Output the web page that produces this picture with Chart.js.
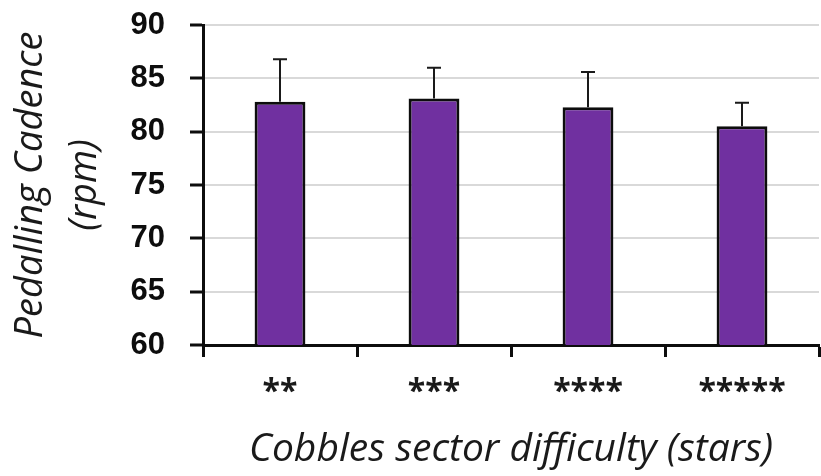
<!DOCTYPE html>
<html>
<head>
<meta charset="utf-8">
<script src="https://cdn.jsdelivr.net/npm/chart.js@4.4.1/dist/chart.umd.min.js"></script>
<style>
  html, body { margin: 0; padding: 0; background: #ffffff; }
  #wrap { width: 821px; height: 476px; }
</style>
</head>
<body>
<div id="wrap"><canvas id="chart" width="821" height="476"></canvas></div>
<script>
// Sector difficulty categories (stars) and mean pedalling cadence with SD
const categories = ['**', '***', '****', '*****'];
const cadenceMean = [82.8, 83.1, 82.3, 80.5];
const cadenceSD = [4.0, 2.9, 3.3, 2.2];
const yMin = 60;
const yMax = 90;
const yStep = 5;

// Upward-only error bars with a small cap, drawn from the bar top
const errorBars = {
  id: 'errorBars',
  afterDatasetsDraw(chart) {
    const meta = chart.getDatasetMeta(0);
    const yScale = chart.scales.y;
    const ctx = chart.ctx;
    ctx.save();
    ctx.strokeStyle = '#1a1a1a';
    ctx.lineWidth = 2;
    meta.data.forEach((bar, i) => {
      const top = yScale.getPixelForValue(cadenceMean[i] + cadenceSD[i]);
      const x = Math.round(bar.x);
      ctx.beginPath();
      ctx.moveTo(x, bar.y);
      ctx.lineTo(x, top);
      ctx.moveTo(x - 7, top);
      ctx.lineTo(x + 7, top);
      ctx.stroke();
    });
    ctx.restore();
  }
};

new Chart(document.getElementById('chart'), {
  type: 'bar',
  data: {
    labels: categories,
    datasets: [{
      data: cadenceMean,
      backgroundColor: '#7030a0',
      borderColor: '#0d0d0d',
      borderWidth: 3,
      borderSkipped: 'start',
      barPercentage: 0.33,
      categoryPercentage: 1.0
    }]
  },
  options: {
    responsive: false,
    animation: false,
    layout: { padding: { top: 25, right: 2, left: 0, bottom: 0 } },
    plugins: {
      legend: { display: false },
      tooltip: { enabled: false }
    },
    scales: {
      x: {
        offset: true,
        afterFit(scale) { scale.height = 131; },
        grid: {
          offset: true,
          drawOnChartArea: false,
          drawTicks: true,
          tickLength: 12,
          tickColor: '#0d0d0d',
          tickWidth: 3
        },
        border: { color: '#0d0d0d', width: 3 },
        ticks: {
          color: '#1a1a1a',
          padding: 17,
          font: { family: 'Open Sans', weight: 'bold', size: 32 }
        },
        title: {
          display: true,
          text: 'Cobbles sector difficulty (stars)',
          color: '#1a1a1a',
          padding: { top: 0, bottom: 3 },
          font: { family: 'Open Sans', style: 'italic', size: 39 }
        }
      },
      y: {
        min: yMin,
        max: yMax,
        afterFit(scale) {
          scale.width = 203;
          scale.paddingTop = 0;
          scale.paddingBottom = 0;
        },
        ticks: {
          stepSize: yStep,
          color: '#0d0d0d',
          padding: 25,
          font: { family: 'Liberation Sans', weight: 'bold', size: 31 }
        },
        grid: {
          color: '#d9d9d9',
          lineWidth: 2,
          tickLength: 13,
          tickColor: '#0d0d0d',
          tickWidth: 3
        },
        border: { color: '#0d0d0d', width: 3 },
        title: {
          display: true,
          text: ['Pedalling Cadence', '(rpm)'],
          color: '#1a1a1a',
          padding: { top: 4, bottom: 0 },
          font: { family: 'Open Sans', style: 'italic', size: 38, lineHeight: 1.42 }
        }
      }
    }
  },
  plugins: [errorBars]
});
</script>
</body>
</html>
